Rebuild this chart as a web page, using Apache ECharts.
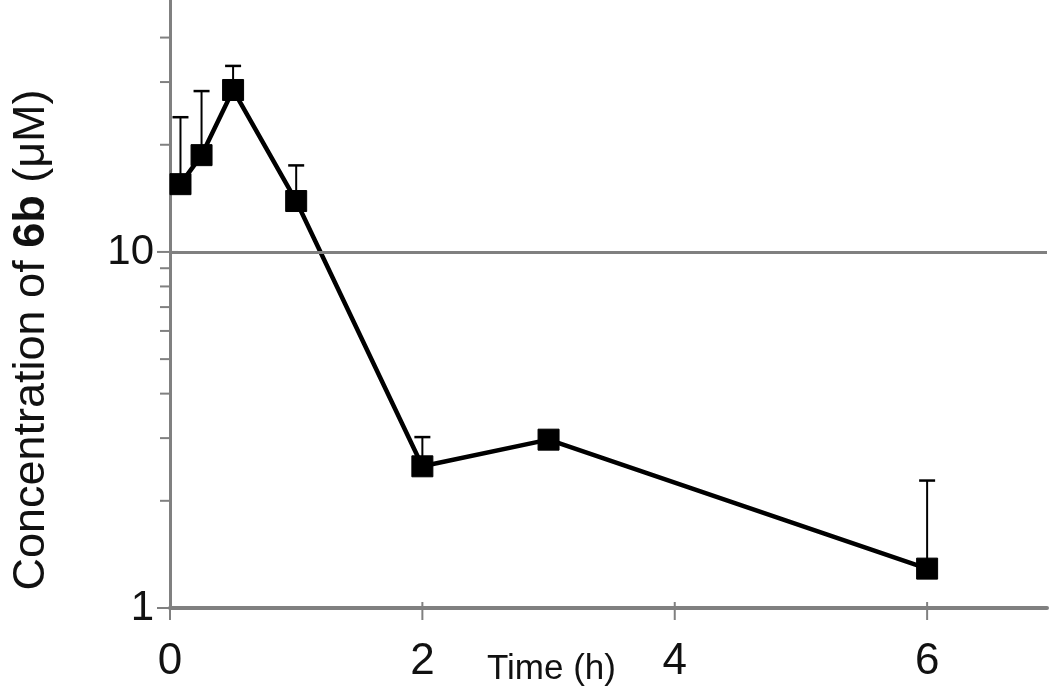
<!DOCTYPE html>
<html><head><meta charset="utf-8">
<script src="https://cdn.jsdelivr.net/npm/echarts@6/dist/echarts.min.js"></script>
<style>html,body{margin:0;padding:0;background:#fff}#c{width:1050px;height:695px}</style>
</head><body><div id="c"></div>
<script>
const times = [0.083, 0.25, 0.5, 1, 2, 3, 6];
const conc = [15.5, 18.7, 28.5, 13.9, 2.5, 2.97, 1.29];
const upper = [23.9, 28.3, 33.3, 17.5, 3.02, null, 2.28];
const xTicks = [0, 2, 4, 6];
const yMajor = [1, 10];
const yMinor = [2, 3, 4, 5, 6, 7, 8, 9, 20, 30, 40];

const gray = '#808080';
const font = 'Liberation Sans, Arial, sans-serif';
const chart = echarts.init(document.getElementById('c'));

const errData = times.map((t, i) => upper[i] == null ? null : [t, conc[i], upper[i]]).filter(d => d);
const tickData = yMajor.map(v => [0, v, 1]).concat(yMinor.map(v => [0, v, 0]));
const xTickData = xTicks.map(v => [v, 1]);

chart.setOption({
  animation: false,
  grid: { left: 170, right: 0, top: 0, bottom: 87 },
  xAxis: {
    type: 'value', min: 0, max: 6.95, interval: 2,
    axisLine: { show: true, lineStyle: { color: gray, width: 4 } },
    axisTick: { show: false },
    axisLabel: { margin: 32, fontSize: 44, color: '#111', fontFamily: font,
      formatter: v => xTicks.indexOf(v) >= 0 ? String(v) : '' },
    splitLine: { show: false }
  },
  yAxis: {
    type: 'log', min: 1, max: 51, logBase: 10,
    axisLine: { show: true, onZero: false, lineStyle: { color: gray, width: 3 } },
    axisTick: { show: false },
    axisLabel: { margin: 16, fontSize: 42, color: '#111', fontFamily: font,
      formatter: v => (Math.abs(v - 1) < 1e-6 || Math.abs(v - 10) < 1e-6) ? String(Math.round(v)) : '' },
    splitLine: { show: false }
  },
  graphic: [
    { type: 'text', left: 487, top: 652,
      style: { text: 'Time (h)', fontSize: 35, fill: '#111', fontFamily: font } },
    { type: 'text', x: 32, y: 340, rotation: Math.PI / 2,
      style: { text: '{a|Concentration of }{b|6b}{a| (μM)}', align: 'center', verticalAlign: 'middle',
        rich: {
          a: { fontSize: 45, fill: '#111', color: '#111', fontFamily: font },
          b: { fontSize: 45, fill: '#111', color: '#111', fontFamily: font, fontWeight: 'bold' }
        } } }
  ],
  series: [
    { type: 'custom', clip: false, z: 1, silent: true,
      data: tickData,
      renderItem: (params, api) => {
        const p = api.coord([api.value(0), api.value(1)]);
        const major = api.value(2) === 1;
        return { type: 'line',
          shape: { x1: p[0] - (major ? 13 : 10), y1: p[1], x2: p[0] + (major ? 8 : 0), y2: p[1] },
          style: { stroke: gray, lineWidth: 2 } };
      } },
    { type: 'custom', clip: false, z: 1, silent: true,
      data: xTickData,
      renderItem: (params, api) => {
        const p = api.coord([api.value(0), api.value(1)]);
        return { type: 'line',
          shape: { x1: p[0], y1: p[1] - 6, x2: p[0], y2: p[1] + 12 },
          style: { stroke: gray, lineWidth: 2 } };
      } },
    { type: 'custom', z: 3, silent: true,
      data: errData,
      renderItem: (params, api) => {
        const lo = api.coord([api.value(0), api.value(1)]);
        const hi = api.coord([api.value(0), api.value(2)]);
        return { type: 'group', children: [
          { type: 'line', shape: { x1: lo[0], y1: lo[1], x2: hi[0], y2: hi[1] }, style: { stroke: '#000', lineWidth: 2 } },
          { type: 'line', shape: { x1: hi[0] - 8, y1: hi[1], x2: hi[0] + 8, y2: hi[1] }, style: { stroke: '#000', lineWidth: 2.5 } }
        ] };
      } },
    { type: 'line', z: 4,
      data: times.map((t, i) => [t, conc[i]]),
      symbol: 'rect', symbolSize: 21, showSymbol: true,
      lineStyle: { color: '#000', width: 4.5 },
      itemStyle: { color: '#000', borderColor: '#000' },
      markLine: { silent: true, symbol: 'none', label: { show: false },
        lineStyle: { color: gray, width: 3, type: 'solid' },
        data: [{ yAxis: 10 }] }
    }
  ]
});
</script></body></html>
